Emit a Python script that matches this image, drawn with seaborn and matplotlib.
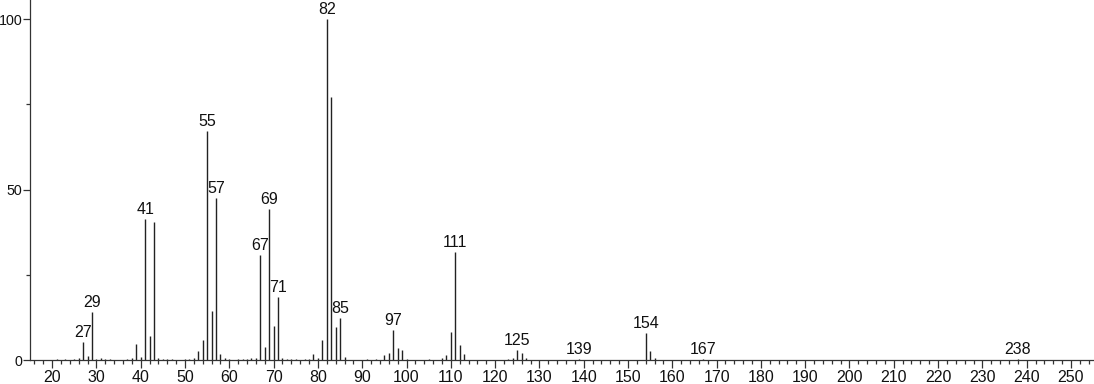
import matplotlib
matplotlib.use("Agg")
import matplotlib.pyplot as plt
import seaborn as sns
import pandas as pd
from matplotlib.ticker import MultipleLocator

mz = [21, 23, 25, 26, 27, 28, 29, 30, 31, 32, 33, 37, 38, 39, 40, 41, 42, 43, 44, 45, 46, 47,
      50, 51, 52, 53, 54, 55, 56, 57, 58, 59, 60, 62, 63, 64, 65, 66, 67, 68, 69, 70, 71,
      72, 73, 74, 75, 77, 78, 79, 80, 81, 82, 83, 84, 85, 86, 91, 93, 95, 96, 97, 98, 99,
      100, 105, 108, 109, 110, 111, 112, 113, 123, 124, 125, 126, 127, 139, 154, 155, 156,
      167, 238]
intensity = [0.3, 0.3, 0.4, 0.5, 5.4, 1.3, 14.2, 0.4, 0.5, 0.2, 0.3, 0.3, 0.5, 4.7, 0.8, 41.3,
             7.0, 40.5, 0.5, 0.4, 0.3, 0.3, 0.2, 0.4, 0.6, 2.6, 5.8, 67.2, 14.4, 47.6, 1.8, 0.5,
             0.3, 0.3, 0.4, 0.3, 0.6, 0.6, 30.7, 3.7, 44.3, 10.1, 18.4, 0.5, 0.4, 0.3, 0.3, 0.4,
             0.3, 1.7, 0.7, 5.9, 100.0, 77.2, 9.6, 12.2, 0.8, 0.3, 0.4, 1.5, 2.0, 8.8, 3.4, 2.9,
             0.3, 0.3, 0.7, 1.5, 8.3, 31.8, 4.4, 1.7, 0.4, 0.5, 2.9, 2.0, 0.5, 0.3, 7.8, 2.7,
             0.7, 0.3, 0.3]
labeled = [27, 29, 41, 55, 57, 67, 69, 71, 82, 85, 97, 111, 125, 139, 154, 167, 238]

df = pd.DataFrame({"mz": mz, "intensity": intensity})

sns.set_theme(style="ticks")
plt.rcParams["font.family"] = ["Liberation Sans", "DejaVu Sans"]

fig = plt.figure(figsize=(10.94, 3.84), dpi=100)
ax = fig.add_axes([30 / 1094, 24 / 384, 1 - 30 / 1094, 1 - 24 / 384])

ax.vlines(df["mz"], 0, df["intensity"], color="#222222", linewidth=1.0)

for m in labeled:
    v = df.loc[df["mz"] == m, "intensity"].iloc[0]
    ax.annotate(str(m), (m, v), xytext=(0, 1.5), textcoords="offset points",
                ha="center", va="bottom", fontsize=11.5, color="#111111")

ax.set_xlim(15, 255.2)
ax.set_ylim(0, 105.6)
ax.xaxis.set_minor_locator(MultipleLocator(2))
ax.yaxis.set_major_locator(MultipleLocator(50))
ax.yaxis.set_minor_locator(MultipleLocator(25))
ax.set_xticks(range(20, 251, 10))
ax.tick_params(axis="x", which="major", length=6, width=0.9, colors="#333333",
               labelsize=11.5, labelcolor="#111111", pad=1.5)
ax.tick_params(axis="y", which="major", length=5, width=0.9, colors="#333333",
               labelsize=10.3, labelcolor="#111111", pad=0.5)
ax.tick_params(axis="both", which="minor", length=3, width=0.9, colors="#333333")
for s in ["top", "right"]:
    ax.spines[s].set_visible(False)
for s in ["left", "bottom"]:
    ax.spines[s].set_color("#333333")
    ax.spines[s].set_linewidth(0.9)
ax.set_xlabel("")
ax.set_ylabel("")
ax.set_facecolor("white")
fig.patch.set_facecolor("white")

fig.savefig("out.png", dpi=100)
